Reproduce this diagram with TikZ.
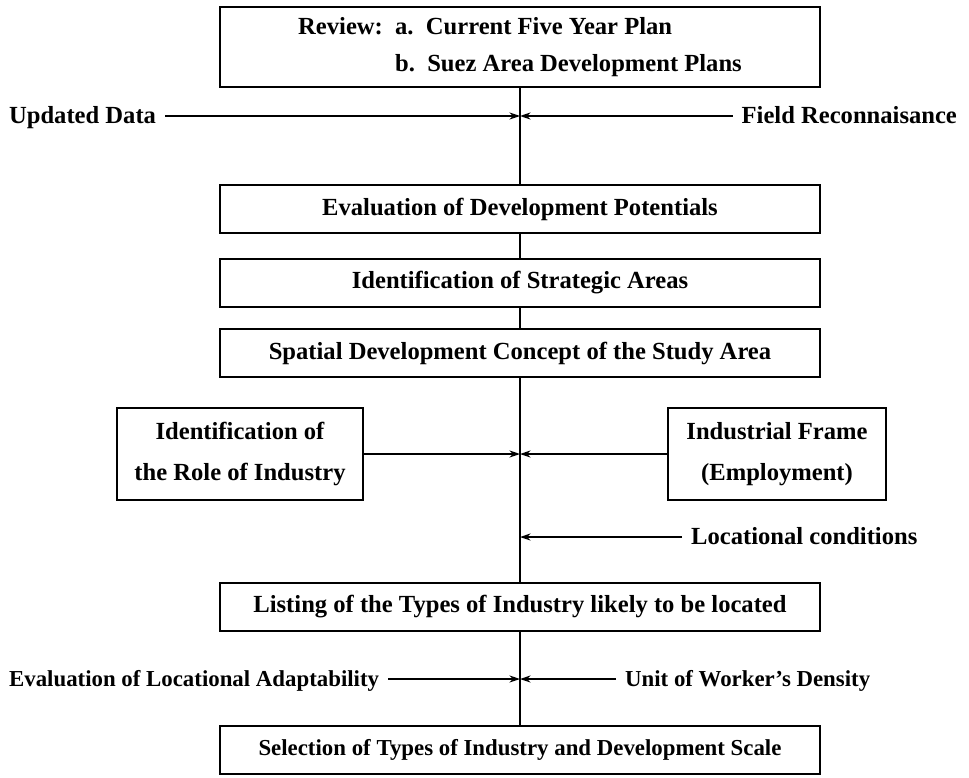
\documentclass[tikz,border=0pt]{standalone}
\usepackage{fontspec}
\setmainfont{Liberation Serif}
\usetikzlibrary{arrows.meta}
\begin{document}
\begin{tikzpicture}
[x=0.02cm,y=-0.02cm,>={Stealth[length=6pt,width=4pt]},font=\fontsize{14}{16}\selectfont\bfseries,
box/.style = {draw, line width=1.1pt, minimum width=12cm, minimum height=0.95cm, inner sep=0pt},
sidebox/.style = {draw, line width=1.1pt, align=center, minimum height=1.84cm, inner sep=0pt, font=\fontsize{14}{23}\selectfont\bfseries},
note/.style = {inner sep=5pt},
small/.style = {font=\fontsize{13}{16}\selectfont\bfseries},
feed/.style = {->, line width=0.8pt},
spine/.style = {line width=1.6pt},]
\useasboundingbox (0,0) rectangle (969,777);
\node (top) at (520,47)[box,minimum height=1.6cm,align=left,font=\fontsize{14}{21}\selectfont\bfseries] {Review:\ \ a.\ \ Current Five Year Plan\\\hphantom{Review:\ \ }b.\ \ Suez Area Development Plans};
\node (upd) at (0,119)[note,anchor=mid west] {Updated Data};
\node (field) at (966,119)[note,anchor=mid east] {Field Reconnaisance};
\coordinate (j1) at (520,116);
\node (eval) at (520,209)[box] {Evaluation of Development Potentials};
\node (strat) at (520,283)[box] {Identification of Strategic Areas};
\node (spatial) at (520,353)[box] {Spatial Development Concept of the Study Area};
\node (role) at (240,454)[sidebox,minimum width=4.92cm] {Identification of\\the Role of Industry};
\node (frame) at (777,454)[sidebox,minimum width=4.36cm] {Industrial Frame\\(Employment)};
\coordinate (j2) at (520,454);
\node (loccond) at (682,540)[note,anchor=mid west] {Locational conditions};
\coordinate (j3) at (520,537);
\node (listing) at (520,607)[box] {Listing of the Types of Industry likely to be located};
\node (adapt) at (0,682)[note,small,anchor=mid west] {Evaluation of Locational Adaptability};
\node (density) at (616,682)[note,small,anchor=mid west] {Unit of Worker's Density};
\coordinate (j4) at (520,679);
\node (select) at (520,750)[box,small] {Selection of Types of Industry and Development Scale};
\draw[spine] (top)--(eval);
\draw[spine] (eval)--(strat);
\draw[spine] (strat)--(spatial);
\draw[spine] (spatial)--(listing);
\draw[spine] (listing)--(select);
\draw[feed] (upd.east|-j1)--(j1);
\draw[feed] (field.west|-j1)--(j1);
\draw[feed] (role)--(j2);
\draw[feed] (frame)--(j2);
\draw[feed] (loccond.west|-j3)--(j3);
\draw[feed] (adapt.east|-j4)--(j4);
\draw[feed] (density.west|-j4)--(j4);
\end{tikzpicture}
\end{document}
